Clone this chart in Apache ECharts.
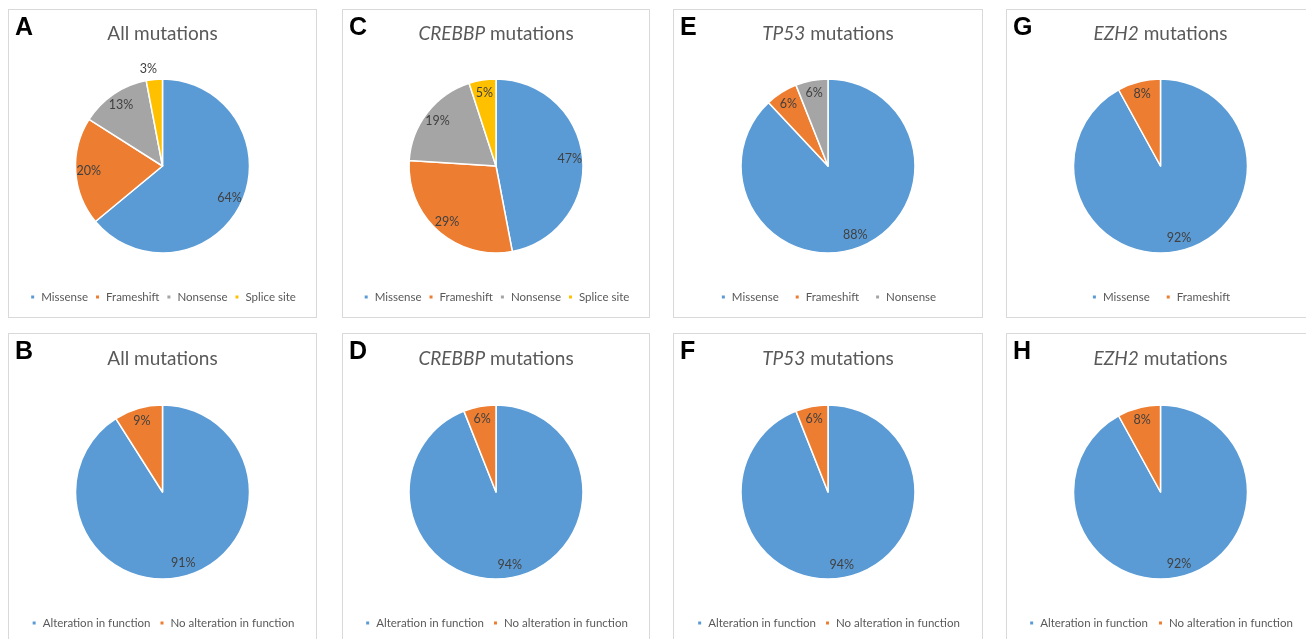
<!DOCTYPE html>
<html>
<head>
<meta charset="utf-8">
<script src="https://cdn.jsdelivr.net/npm/echarts@6/dist/echarts.min.js"></script>
<style>
  html, body { margin: 0; padding: 0; background: #fff; }
  body { width: 1306px; height: 639px; position: relative; overflow: hidden; }
  .panel { position: absolute; box-sizing: border-box; border: 1px solid #d9d9d9; background: #fff; }
</style>
</head>
<body>
<div id="A" class="panel"></div>
<div id="B" class="panel"></div>
<div id="C" class="panel"></div>
<div id="D" class="panel"></div>
<div id="E" class="panel"></div>
<div id="F" class="panel"></div>
<div id="G" class="panel"></div>
<div id="H" class="panel"></div>
<script>
// Category names
const mutationTypes = ['Missense', 'Frameshift', 'Nonsense', 'Splice site'];
const functionTypes = ['Alteration in function', 'No alteration in function'];

// Percentages of each mutation type
const allTypeValues = [64, 20, 13, 3];
const crebbpTypeValues = [47, 29, 19, 5];
const tp53TypeValues = [88, 6, 6];
const ezh2TypeValues = [92, 8];

// Percentages with / without alteration in function
const allFunctionValues = [91, 9];
const crebbpFunctionValues = [94, 6];
const tp53FunctionValues = [94, 6];
const ezh2FunctionValues = [92, 8];

// Panel titles: gene name (italic) + suffix
const panelGenes = { A: '', B: '', C: 'CREBBP', D: 'CREBBP', E: 'TP53', F: 'TP53', G: 'EZH2', H: 'EZH2' };

const sliceColors = ['#5B9BD5', '#ED7D31', '#A5A5A5', '#FFC000'];

const colX = [8, 342, 673, 1006];
const colW = [309, 308, 310, 309];
const rowY = [9, 333];

const panels = [
  { id: 'A', col: 0, row: 0, names: mutationTypes, values: allTypeValues, outsideIndex: 3, gap: 6 },
  { id: 'C', col: 1, row: 0, names: mutationTypes, values: crebbpTypeValues, gap: 6 },
  { id: 'E', col: 2, row: 0, names: mutationTypes, values: tp53TypeValues, gap: 15 },
  { id: 'G', col: 3, row: 0, names: mutationTypes, values: ezh2TypeValues, gap: 15 },
  { id: 'B', col: 0, row: 1, names: functionTypes, values: allFunctionValues, gap: 8 },
  { id: 'D', col: 1, row: 1, names: functionTypes, values: crebbpFunctionValues, gap: 8 },
  { id: 'F', col: 2, row: 1, names: functionTypes, values: tp53FunctionValues, gap: 8 },
  { id: 'H', col: 3, row: 1, names: functionTypes, values: ezh2FunctionValues, gap: 9 }
];

const FONT = 'Lato, "Noto Sans", sans-serif';

panels.forEach(p => {
  const el = document.getElementById(p.id);
  el.style.left = colX[p.col] + 'px';
  el.style.top = rowY[p.row] + 'px';
  el.style.width = colW[p.col] + 'px';
  el.style.height = '309px';

  const chart = echarts.init(el, null, { renderer: 'canvas' });
  const names = p.names.slice(0, p.values.length);
  const cy = p.row === 0 ? 156 : 158;
  const radius = 87;

  const data = p.values.map((v, i) => {
    const item = { name: names[i], value: v, itemStyle: { color: sliceColors[i] } };
    if (i === p.outsideIndex) {
      item.label = { show: true, position: 'outside', formatter: '{c}%' };
      item.labelLine = { show: false, length: 10, length2: 0 };
    }
    return item;
  });

  const gene = panelGenes[p.id];
  const titleText = gene ? '{i|' + gene + '} mutations' : 'All mutations';

  chart.setOption({
    animation: false,
    title: {
      text: titleText,
      left: 'center',
      top: p.row === 0 ? 14 : 15,
      padding: 0,
      textStyle: {
        fontFamily: FONT, fontSize: 19, fontWeight: 'normal', color: '#595959',
        rich: { i: { fontFamily: FONT, fontSize: 19, fontStyle: 'italic', color: '#595959' } }
      }
    },
    graphic: [{
      type: 'text', left: 6, top: 6,
      style: { text: p.id, font: 'bold 25px "Liberation Sans", Arial, sans-serif', fill: '#000' }
    }],
    legend: {
      data: names,
      left: 'center',
      top: p.row === 0 ? 281 : 283,
      padding: 0,
      icon: 'rect',
      itemWidth: 5,
      itemHeight: 5,
      itemGap: p.gap,
      selectedMode: false,
      textStyle: { fontFamily: FONT, fontSize: 11.5, color: '#595959', padding: [0, 0, 0, 1] }
    },
    series: [
      {
        type: 'pie',
        center: ['50%', cy],
        radius: radius,
        startAngle: 90,
        clockwise: true,
        avoidLabelOverlap: false,
        silent: true,
        itemStyle: { borderColor: '#fff', borderWidth: 1.5 },
        label: { show: false, fontFamily: FONT, fontSize: 12.5, color: '#404040' },
        labelLine: { show: false },
        labelLayout: { align: 'center' },
        emphasis: { disabled: true },
        data: data
      },
      {
        // Transparent companion ring that carries the in-slice value labels
        type: 'pie',
        center: ['50%', cy],
        radius: 142,
        startAngle: 90,
        clockwise: true,
        avoidLabelOverlap: false,
        silent: true,
        itemStyle: { color: 'rgba(0,0,0,0)', borderWidth: 0 },
        label: { show: true, position: 'inside', formatter: '{c}%', fontFamily: FONT, fontSize: 12.5, color: '#404040' },
        labelLine: { show: false },
        emphasis: { disabled: true },
        data: p.values.map((v, i) => ({
          name: names[i], value: v,
          label: { show: i !== p.outsideIndex }
        }))
      }
    ]
  });
});
</script>
</body>
</html>
